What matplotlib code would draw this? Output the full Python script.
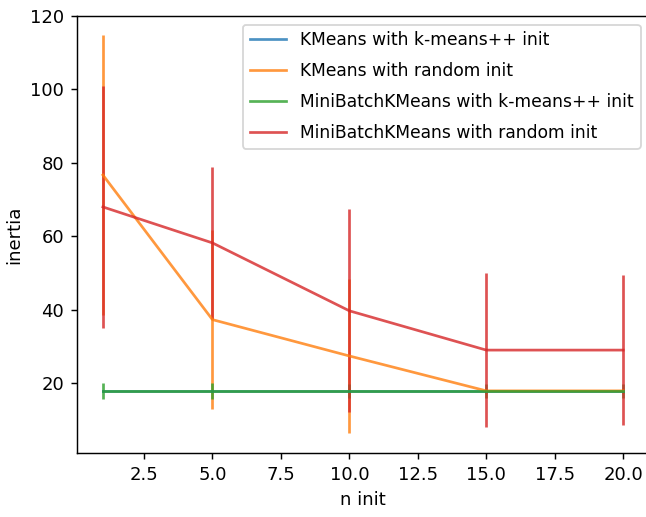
import numpy as np
import matplotlib
matplotlib.use("Agg")
import matplotlib.pyplot as plt

# n_init values and mean / std of inertia
n_init_range = [1, 5, 10, 15, 20]

km_pp_mean = [17.8, 17.8, 17.8, 17.8, 17.8]
km_pp_std = [0.3, 0.3, 0.3, 0.3, 0.3]

km_rand_mean = [76.7, 37.3, 27.4, 17.9, 17.9]
km_rand_std = [38.1, 24.4, 21.0, 0.5, 0.5]

mb_pp_mean = [17.9, 17.9, 17.9, 17.9, 17.9]
mb_pp_std = [2.1, 2.1, 2.0, 2.0, 2.0]

mb_rand_mean = [68.0, 58.2, 39.7, 29.0, 29.0]
mb_rand_std = [33.0, 20.7, 27.6, 21.0, 20.4]

labels = ["KMeans with k-means++ init",
          "KMeans with random init",
          "MiniBatchKMeans with k-means++ init",
          "MiniBatchKMeans with random init"]

fig = plt.figure(figsize=(646 / 130, 517 / 130), dpi=130)
# the reference is cropped on the right, so the axes run past the edge
ax = fig.add_axes([0.119, 0.124, 0.886, 0.845])

plots = []
for mean, std in [(km_pp_mean, km_pp_std), (km_rand_mean, km_rand_std),
                  (mb_pp_mean, mb_pp_std), (mb_rand_mean, mb_rand_std)]:
    p = ax.errorbar(n_init_range, mean, std, alpha=0.8)
    plots.append(p[0])

ax.legend(plots, labels, fontsize=9.5, labelspacing=0.75, handlelength=2.15)
ax.set_xlabel("n init")
ax.set_ylabel("inertia")
ax.set_ylim(1.0, 120)

fig.savefig("out.png", dpi=130)
